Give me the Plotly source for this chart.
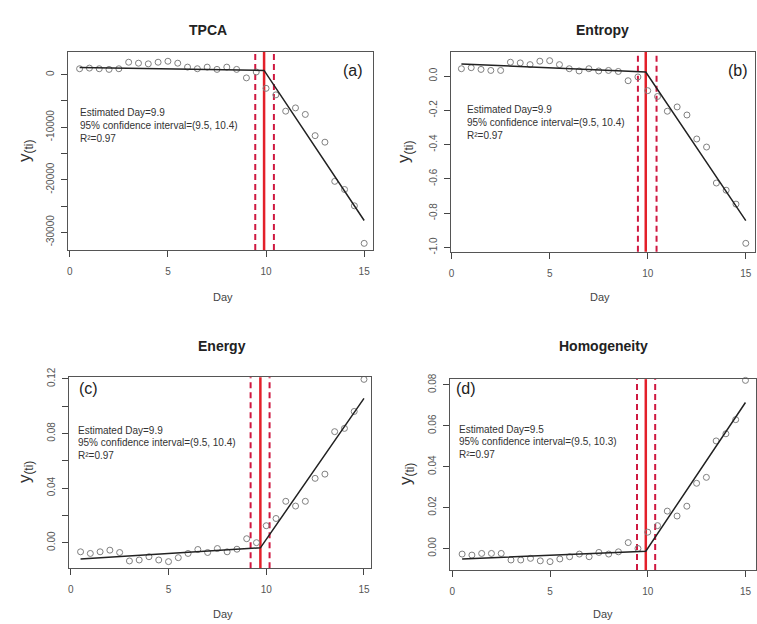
import plotly.graph_objects as go

# ---------------- data ----------------
days = [0.5, 1.0, 1.5, 2.0, 2.5, 3.0, 3.5, 4.0, 4.5, 5.0,
        5.5, 6.0, 6.5, 7.0, 7.5, 8.0, 8.5, 9.0, 9.5, 10.0,
        10.5, 11.0, 11.5, 12.0, 12.5, 13.0, 13.5, 14.0, 14.5, 15.0]

tpca = [1118, 1242, 1118, 994, 1118, 2360, 2174, 2050, 2360, 2546,
        2174, 1428, 1118, 1428, 994, 1428, 994, -621, 497, -2608,
        -3850, -6955, -6335, -7576, -11613, -12855, -20307, -21859, -24965, -32106]
entropy = [0.043, 0.049, 0.039, 0.033, 0.033, 0.081, 0.077, 0.067, 0.087, 0.090,
           0.067, 0.043, 0.030, 0.043, 0.030, 0.033, 0.027, -0.027, -0.005, -0.085,
           -0.119, -0.205, -0.180, -0.227, -0.367, -0.414, -0.624, -0.666, -0.747, -0.976]
energy = [-0.0067, -0.0079, -0.0067, -0.0055, -0.0072, -0.0134, -0.0127, -0.0103, -0.0127, -0.0139,
          -0.0110, -0.0079, -0.0050, -0.0072, -0.0043, -0.0067, -0.0048, 0.0029, 0.0000, 0.0124,
          0.0177, 0.0303, 0.0268, 0.0303, 0.0471, 0.0502, 0.0813, 0.0837, 0.0961, 0.1196]
homog = [-0.0027, -0.0032, -0.0024, -0.0024, -0.0024, -0.0056, -0.0056, -0.0048, -0.0060, -0.0064,
         -0.0051, -0.0040, -0.0027, -0.0040, -0.0019, -0.0027, -0.0016, 0.0029, 0.0000, 0.0080,
         0.0112, 0.0183, 0.0159, 0.0207, 0.0319, 0.0348, 0.0526, 0.0561, 0.0630, 0.0822]

fit_x = {"a": [0.5, 9.9, 15.0], "b": [0.5, 9.9, 15.0], "c": [0.5, 9.7, 15.0], "d": [0.5, 9.9, 15.0]}
fit_y = {"a": [1370, 800, -27760], "b": [0.071, 0.024, -0.843],
         "c": [-0.0120, -0.0038, 0.1057], "d": [-0.0051, -0.0013, 0.0714]}

# drawn break-point lines (solid) and CI lines (dashed)
break_day = {"a": 9.9, "b": 9.9, "c": 9.7, "d": 9.9}
ci_days = {"a": [9.45, 10.4], "b": [9.5, 10.45], "c": [9.2, 10.17], "d": [9.45, 10.38]}

titles = {"a": "TPCA", "b": "Entropy", "c": "Energy", "d": "Homogeneity"}
tags = {"a": "(a)", "b": "(b)", "c": "(c)", "d": "(d)"}
info = {
    "a": ["Estimated Day=9.9", "95% confidence interval=(9.5, 10.4)", "R\u00b2=0.97"],
    "b": ["Estimated Day=9.9", "95% confidence interval=(9.5, 10.4)", "R\u00b2=0.97"],
    "c": ["Estimated Day=9.9", "95% confidence interval=(9.5, 10.4)", "R\u00b2=0.97"],
    "d": ["Estimated Day=9.5", "95% confidence interval=(9.5, 10.3)", "R\u00b2=0.97"],
}

x_ticks = [0, 5, 10, 15]
y_tickvals = {
    "a": [0, -5000, -10000, -15000, -20000, -25000, -30000],
    "b": [0.0, -0.2, -0.4, -0.6, -0.8, -1.0],
    "c": [0.0, 0.02, 0.04, 0.06, 0.08, 0.10, 0.12],
    "d": [0.0, 0.02, 0.04, 0.06, 0.08],
}
y_ticktext = {
    "a": ["0", "", "-10000", "", "-20000", "", "-30000"],
    "b": ["0.0", "-0.2", "-0.4", "-0.6", "-0.8", "-1.0"],
    "c": ["0.00", "", "0.04", "", "0.08", "", "0.12"],
    "d": ["0.00", "0.02", "0.04", "0.06", "0.08"],
}
series = {"a": tpca, "b": entropy, "c": energy, "d": homog}

# ---------------- layout geometry (pixels) ----------------
W, H = 757, 624
box = {"a": (66, 372, 43, 245), "b": (450, 755, 43, 247),
       "c": (67, 370, 375, 570), "d": (449, 756, 377, 572)}
xr = {"a": [-0.1, 15.45], "b": [-0.04, 15.47], "c": [-0.1, 15.36], "d": [-0.13, 15.54]}
yr = {"a": [-33352, 4285], "b": [-1.0257, 0.140], "c": [-0.01865, 0.1212], "d": [-0.01053, 0.0828]}

title_pos = {"a": (207, 20), "b": (602, 20), "c": (221, 343), "d": (603, 343)}
day_pos = {"a": (222, 293), "b": (600, 293), "c": (222, 617), "d": (603, 617)}
ylab_pos = {"a": (24, 144), "b": (404, 145), "c": (24, 472), "d": (406, 474)}
tag_pos = {"a": (352, 62), "b": (738, 62), "c": (87, 387), "d": (465, 387)}
info_pos = {"a": (76, 105), "b": (464, 102), "c": (74, 429), "d": (456, 428)}

fig = go.Figure()
annotations = []
shapes = []
FONT = "Liberation Sans, Arial, sans-serif"
GRAY = "#444444"

for i, k in enumerate(["a", "b", "c", "d"]):
    n = "" if i == 0 else str(i + 1)
    xa, ya = "x" + n, "y" + n
    x0, x1, y0, y1 = box[k]
    # vertical lines
    shapes.append(dict(type="line", xref=xa, yref=ya + " domain", x0=break_day[k], x1=break_day[k],
                       y0=0, y1=1, line=dict(color="#e3202a", width=2.5), layer="below"))
    for cd in ci_days[k]:
        shapes.append(dict(type="line", xref=xa, yref=ya + " domain", x0=cd, x1=cd,
                           y0=0, y1=1, line=dict(color="#cf1840", width=2, dash="6px,4px"), layer="below"))
    fig.add_trace(go.Scatter(x=days, y=series[k], mode="markers", xaxis=xa, yaxis=ya,
                             marker=dict(symbol="circle-open", size=6, color="#808080",
                                         line=dict(width=1, color="#808080")),
                             showlegend=False, cliponaxis=False))
    fig.add_trace(go.Scatter(x=fit_x[k], y=fit_y[k], mode="lines", xaxis=xa, yaxis=ya,
                             line=dict(color="#222222", width=1.5), showlegend=False))
    axx = dict(domain=[x0 / W, x1 / W], range=xr[k], anchor=ya, tickvals=x_ticks,
               ticks="outside", ticklen=6, tickcolor=GRAY, showgrid=False, zeroline=False,
               showline=True, mirror=True, linecolor="#555555", linewidth=1,
               tickfont=dict(family=FONT, size=10, color="#555555"), ticklabelstandoff=6)
    axy = dict(domain=[1 - y1 / H, 1 - y0 / H], range=yr[k], anchor=xa,
               tickmode="array", tickvals=y_tickvals[k], ticktext=y_ticktext[k], tickangle=-90,
               ticks="outside", ticklen=6, tickcolor=GRAY, showgrid=False, zeroline=False,
               showline=True, mirror=True, linecolor="#555555", linewidth=1,
               tickfont=dict(family=FONT, size=10, color="#555555"), ticklabelstandoff=3)
    fig.layout["xaxis" + n] = axx
    fig.layout["yaxis" + n] = axy

    tx, ty = title_pos[k]
    annotations.append(dict(text="<b>" + titles[k] + "</b>", x=tx / W, y=1 - ty / H, xref="paper",
                            yref="paper", showarrow=False, font=dict(family=FONT, size=14, color="#222"),
                            xanchor="center", yanchor="middle"))
    dx, dy = day_pos[k]
    annotations.append(dict(text="Day", x=dx / W, y=1 - dy / H, xref="paper", yref="paper",
                            showarrow=False, font=dict(family=FONT, size=11, color="#444"),
                            xanchor="center", yanchor="middle"))
    lx, ly = ylab_pos[k]
    annotations.append(dict(text="y<sub>(ti)</sub>", x=lx / W, y=1 - ly / H, xref="paper", yref="paper",
                            showarrow=False, textangle=-90, font=dict(family=FONT, size=17, color="#333"),
                            xanchor="center", yanchor="middle"))
    gx, gy = tag_pos[k]
    annotations.append(dict(text=tags[k], x=gx / W, y=1 - gy / H, xref="paper", yref="paper",
                            showarrow=False, font=dict(family=FONT, size=16, color="#222"),
                            xanchor="center", yanchor="middle"))
    ix, iy = info_pos[k]
    for j, line in enumerate(info[k]):
        annotations.append(dict(text=line, x=ix / W, y=1 - (iy + 13 * j) / H, xref="paper", yref="paper",
                                showarrow=False, font=dict(family=FONT, size=10, color="#333"),
                                xanchor="left", yanchor="middle"))

fig.update_layout(width=W, height=H, margin=dict(l=0, r=0, t=0, b=0),
                  paper_bgcolor="white", plot_bgcolor="white",
                  annotations=annotations, shapes=shapes, showlegend=False)
fig.write_html("out.html")
